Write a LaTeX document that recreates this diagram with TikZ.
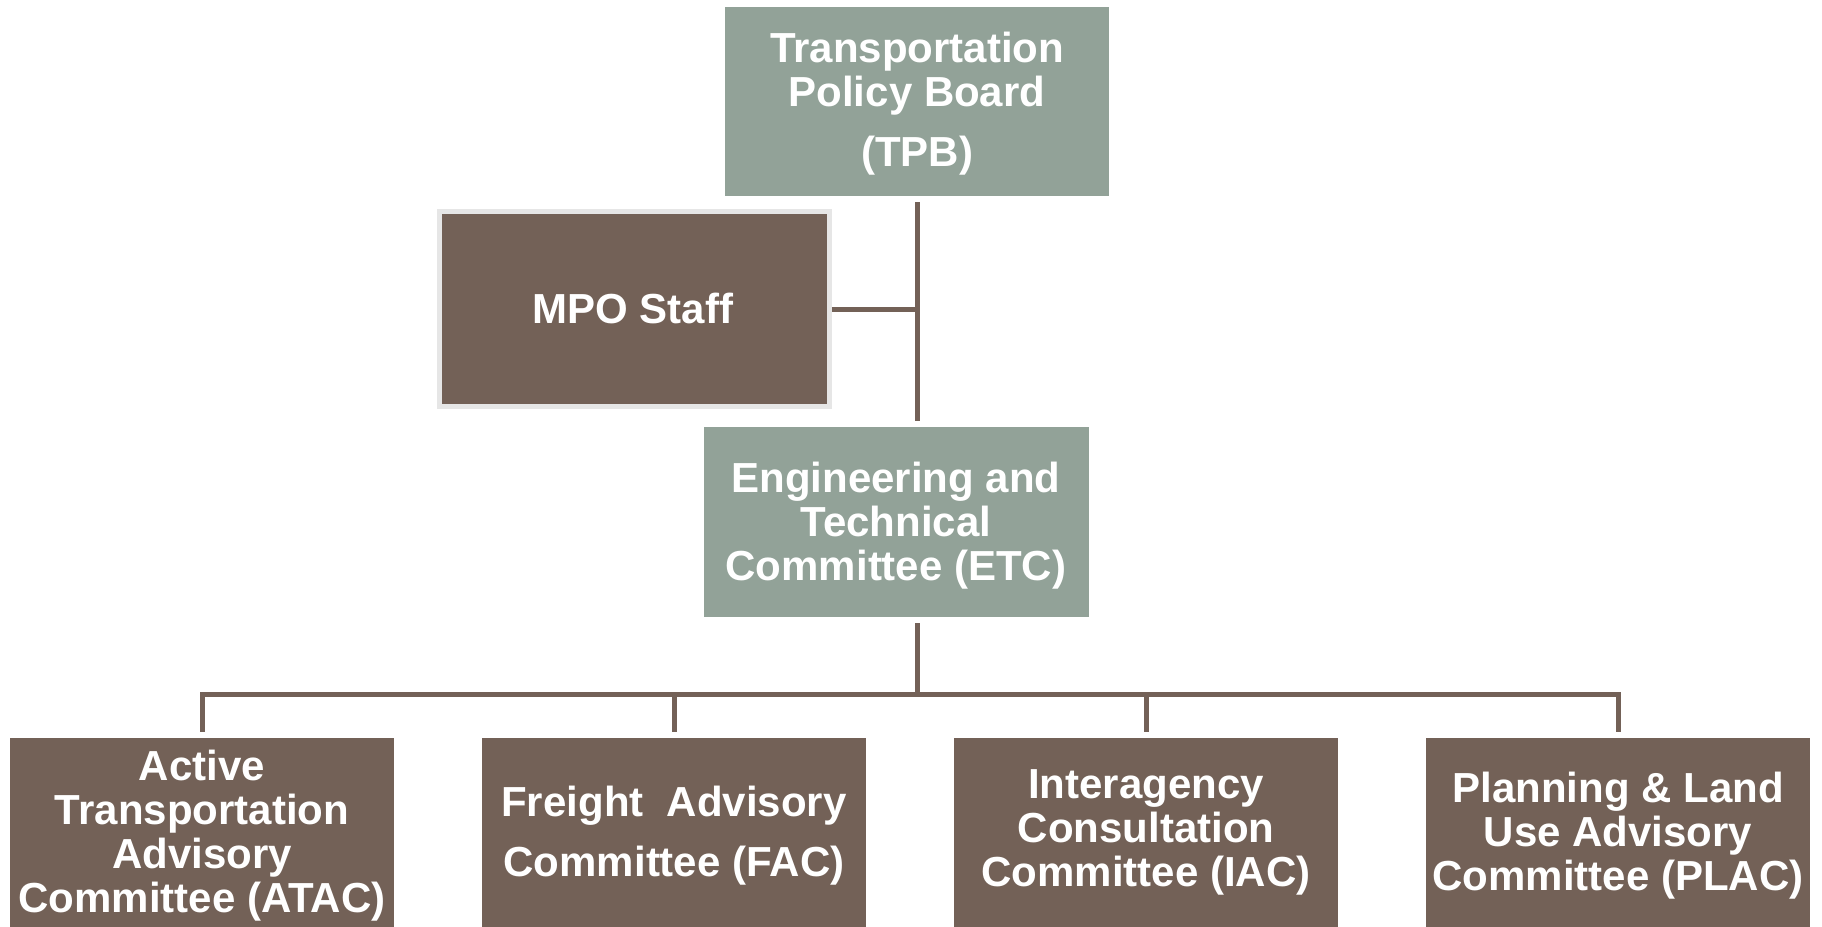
\documentclass[tikz,border=0pt]{standalone}
\usepackage{fontspec}
\setmainfont{Liberation Sans}
\definecolor{boardgreen}{HTML}{92A298}
\definecolor{staffbrown}{HTML}{736157}
\definecolor{framegray}{HTML}{E6E6E6}
\begin{document}
\begin{tikzpicture}[x=1pt,y=-1pt,
		greenbox/.style={fill=boardgreen,minimum width=384pt,minimum height=189pt,inner sep=0pt},
		brownbox/.style={fill=staffbrown,minimum width=384pt,minimum height=200pt,inner sep=0pt},
		label/.style={text=white,align=center,inner sep=0pt,font=\fontsize{42}{44}\selectfont\bfseries},
		link/.style={draw=staffbrown,line width=5pt}]
	\useasboundingbox (0,0) rectangle (1822,926);
	% top of the chart
	\node[greenbox] (tpb) at (917,101.5) {};
	\node[label] (tpb-txt) at (917,104) {Transportation\\Policy Board\\[16pt](TPB)};
	\node[fill=staffbrown,draw=framegray,line width=5pt,minimum width=390pt,minimum height=195pt,inner sep=0pt] (mpo) at (634.5,309) {};
	\node[label] (mpo-txt) at (633,308) {MPO Staff};
	\node[greenbox,minimum width=385pt,minimum height=190pt] (etc) at (896.5,522) {};
	\node[label] (etc-txt) at (896,526) {Engineering and\\Technical\\Committee (ETC)};
	% committees
	\node[brownbox] (atac) at (202,838) {};
	\node[brownbox] (fac) at (674,838) {};
	\node[brownbox] (iac) at (1146,838) {};
	\node[brownbox] (plac) at (1618,838) {};
	\node[label] (atac-txt) at (202,836) {Active\\Transportation\\Advisory\\Committee (ATAC)};
	\node[label] (fac-txt) at (674,836) {Freight~~Advisory\\[16pt]Committee (FAC)};
	\node[label] (iac-txt) at (1146,832) {Interagency\\Consultation\\Committee (IAC)};
	\node[label] (plac-txt) at (1618,836) {Planning \& Land\\Use Advisory\\Committee (PLAC)};
	\coordinate (bus) at (917,694);
	% connectors
	\draw[link,shorten <=6pt,shorten >=6pt] (tpb.south) -- (tpb.south |- etc.north);
	\draw[link] (mpo.east) -- (mpo.east -| tpb.south);
	\draw[link,shorten <=6pt] (etc.south -| tpb.south) -- (bus);
	\draw[link,shorten <=-2.5pt,shorten >=6pt] (bus) -| (atac.north);
	\draw[link,shorten <=-2.5pt,shorten >=6pt] (bus) -| (plac.north);
	\draw[link,shorten >=6pt] (bus -| fac.north) -- (fac.north);
	\draw[link,shorten >=6pt] (bus -| iac.north) -- (iac.north);
\end{tikzpicture}
\end{document}
